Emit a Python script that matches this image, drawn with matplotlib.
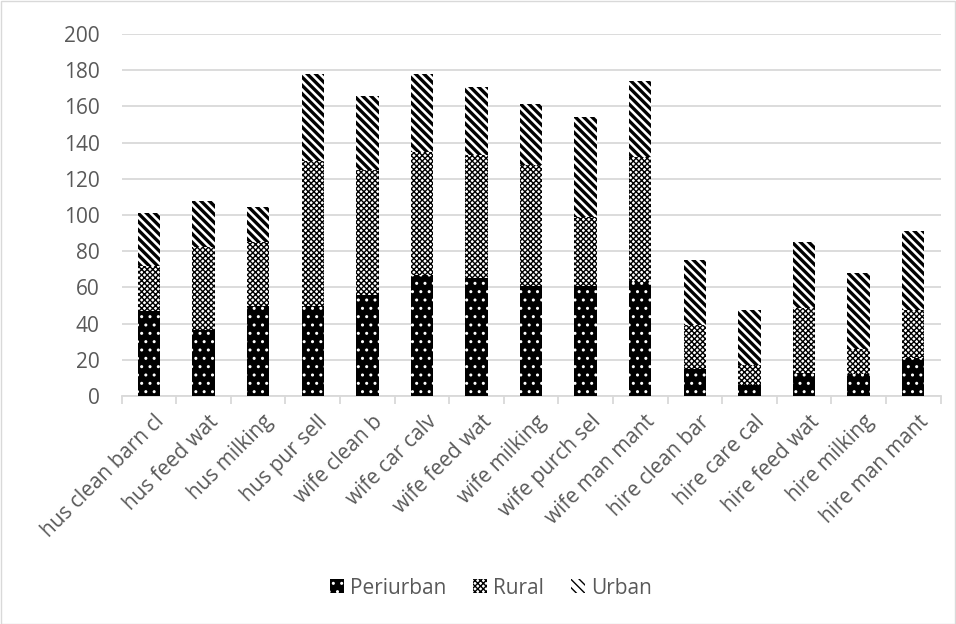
import matplotlib
matplotlib.use("Agg")
import matplotlib.pyplot as plt
from matplotlib.patches import Patch, Rectangle
import numpy as np

categories = ["hus clean barn cl", "hus feed wat", "hus milking", "hus pur sell",
              "wife clean b", "wife car calv", "wife feed wat", "wife milking",
              "wife purch sel", "wife man mant", "hire clean bar", "hire care cal",
              "hire feed wat", "hire milking", "hire man mant"]
periurban = [47, 36.5, 50, 50, 56, 67, 65, 60.5, 60.5, 63, 15, 6, 12.5, 12, 21]
rural = [25, 46, 35, 80, 69, 68, 68, 67, 38.5, 69, 24, 11, 36, 14, 26.5]
urban = [29, 25.5, 19.5, 48, 41, 43, 37.5, 34, 55, 42, 36, 30.5, 36.5, 42, 43.5]
series_names = ["Periurban", "Rural", "Urban"]
yticks = [0, 20, 40, 60, 80, 100, 120, 140, 160, 180, 200]

plt.rcParams['font.family'] = ['Open Sans', 'DejaVu Sans']
TXT = "#595959"
GRID = "#D9D9D9"
FS = 15

fig = plt.figure(figsize=(9.56, 6.24), dpi=100)
ax = fig.add_axes([121.7 / 956, 1 - 396 / 624, (940.5 - 121.7) / 956, (396 - 34) / 624])

x = np.arange(len(categories))
w = 0.41

styles = [
    dict(facecolor="black", edgecolor="white", hatch="..", hlw=1.0),
    dict(facecolor="white", edgecolor="black", hatch="xxxxxx", hlw=1.0),
    dict(facecolor="white", edgecolor="black", hatch="\\\\\\\\", hlw=2.4),
]


def draw_series(vals, bottom, st):
    with plt.rc_context({'hatch.linewidth': st["hlw"]}):
        bars = ax.bar(x, vals, w, bottom=bottom, facecolor=st["facecolor"],
                      edgecolor=st["edgecolor"], hatch=st["hatch"], linewidth=0,
                      zorder=3)
        for b in bars:
            if hasattr(b, "set_hatch_linewidth"):
                b.set_hatch_linewidth(st["hlw"])
    return bars


p = np.array(periurban, dtype=float)
r = np.array(rural, dtype=float)
u = np.array(urban, dtype=float)
draw_series(p, 0, styles[0])
draw_series(r, p, styles[1])
draw_series(u, p + r, styles[2])

ax.set_xlim(-0.5, len(categories) - 0.5)
ax.set_ylim(0, 200)
ax.set_yticks(yticks)
ax.set_yticklabels([str(v) for v in yticks], color=TXT, fontsize=FS)
ax.yaxis.grid(True, color=GRID, linewidth=1.3, zorder=0)
ax.set_axisbelow(True)
for s in ["left", "right", "top"]:
    ax.spines[s].set_visible(False)
ax.spines["bottom"].set_color(GRID)
ax.spines["bottom"].set_linewidth(1.3)
ax.tick_params(axis="y", length=0, pad=16)

# category separators as major ticks, labels on minor ticks
ax.set_xticks(np.arange(-0.5, len(categories)), minor=False)
ax.set_xticklabels([])
ax.tick_params(axis="x", which="major", length=6, color=GRID, width=1.3, direction="out")
ax.set_xticks(x + 0.08, minor=True)
ax.set_xticklabels(categories, minor=True, rotation=45, ha="right",
                   rotation_mode="anchor", color=TXT, fontsize=FS)
ax.tick_params(axis="x", which="minor", length=0, pad=11)

handles = []
for name, st in zip(series_names, styles):
    handles.append(Patch(facecolor=st["facecolor"], edgecolor=st["edgecolor"],
                         hatch=st["hatch"], linewidth=0, label=name))
leg = fig.legend(handles=handles, loc="center", bbox_to_anchor=(491 / 956, 1 - 588 / 624),
                 ncol=3, frameon=False, fontsize=FS, handlelength=0.65, handleheight=0.65,
                 handletextpad=0.3, columnspacing=1.3)
for t in leg.get_texts():
    t.set_color(TXT)

fig.patches.append(Rectangle((0.5 / 956, 0.5 / 624), 1 - 1.5 / 956, 1 - 1.5 / 624,
                             transform=fig.transFigure, fill=False,
                             edgecolor=GRID, linewidth=1.0))

fig.savefig("out.png", dpi=100)
